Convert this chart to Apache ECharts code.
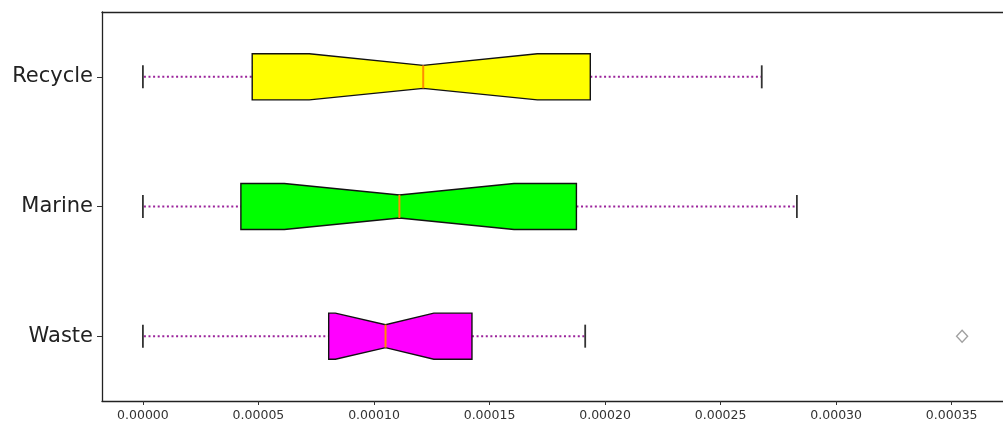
<!DOCTYPE html>
<html>
<head>
<meta charset="utf-8">
<script src="https://cdn.jsdelivr.net/npm/echarts@6/dist/echarts.min.js"></script>
<style>
html,body{margin:0;padding:0;background:#fff;}
#chart{width:1003px;height:430px;}
</style>
</head>
<body>
<div id="chart"></div>
<script>
const categories = ['Recycle', 'Marine', 'Waste'];
const whiskerLow = [0, 0, 0];
const q1 = [0.0000473, 0.0000424, 0.0000804];
const notchLow = [0.0000720, 0.0000612, 0.0000833];
const median = [0.0001213, 0.0001110, 0.0001050];
const notchHigh = [0.0001707, 0.0001606, 0.0001259];
const q3 = [0.0001936, 0.0001876, 0.0001424];
const whiskerHigh = [0.0002678, 0.0002830, 0.0001914];
const boxColors = ['#ffff00', '#00ff00', '#ff00ff'];
const outlierValues = [0.0003545];
const outlierCategories = ['Waste'];
const xTicks = [0, 0.00005, 0.0001, 0.00015, 0.0002, 0.00025, 0.0003, 0.00035];

const boxData = categories.map((c, i) => [i, whiskerLow[i], q1[i], notchLow[i], median[i], notchHigh[i], q3[i], whiskerHigh[i]]);
const outlierData = outlierValues.map((v, i) => [v, outlierCategories[i]]);

const chart = echarts.init(document.getElementById('chart'));

function renderBox(params, api) {
  const idx = api.value(0);
  const X = v => api.coord([v, idx])[0];
  const y = api.coord([0, idx])[1];
  const band = api.size([0, 1])[1];
  const h = band * 0.355 / 2;
  const hn = h / 2;
  const wl = api.value(1), a = api.value(2), nl = api.value(3), m = api.value(4), nh = api.value(5), b = api.value(6), wh = api.value(7);
  const whiskerStyle = { stroke: '#9b239b', lineWidth: 2, lineDash: [2, 2.6], lineCap: 'butt' };
  const capStyle = { stroke: '#333', lineWidth: 1.8 };
  return {
    type: 'group',
    children: [
      { type: 'line', shape: { x1: X(wl) + 1, y1: y, x2: X(a), y2: y }, style: whiskerStyle },
      { type: 'line', shape: { x1: X(b), y1: y, x2: X(wh), y2: y }, style: whiskerStyle },
      { type: 'line', shape: { x1: X(wl), y1: y - hn, x2: X(wl), y2: y + hn }, style: capStyle },
      { type: 'line', shape: { x1: X(wh), y1: y - hn, x2: X(wh), y2: y + hn }, style: capStyle },
      {
        type: 'polygon',
        shape: {
          points: [
            [X(a), y - h], [X(nl), y - h], [X(m), y - hn], [X(nh), y - h], [X(b), y - h],
            [X(b), y + h], [X(nh), y + h], [X(m), y + hn], [X(nl), y + h], [X(a), y + h]
          ]
        },
        style: { fill: boxColors[idx], stroke: '#111', lineWidth: 1.4, lineJoin: 'miter' }
      },
      { type: 'line', shape: { x1: X(m), y1: y - hn, x2: X(m), y2: y + hn }, style: { stroke: '#ff8c00', lineWidth: 2 } }
    ]
  };
}

const axisLineStyle = { color: '#222', width: 1.3 };

chart.setOption({
  animation: false,
  backgroundColor: '#fff',
  grid: { left: 102, top: 12, right: -8, bottom: 29, show: false, containLabel: false },
  xAxis: [
    {
      type: 'value',
      position: 'bottom',
      min: -0.0000177,
      max: 0.0003722,
      splitLine: { show: false },
      axisLine: { show: true, onZero: false, lineStyle: axisLineStyle },
      axisTick: { show: true, length: 4, lineStyle: { color: '#333' }, customValues: xTicks },
      axisLabel: {
        customValues: xTicks,
        formatter: v => Number(v).toFixed(5),
        fontFamily: 'DejaVu Sans', fontSize: 12.5, color: '#333', margin: 8
      }
    },
    {
      type: 'value',
      position: 'top',
      min: -0.0000177,
      max: 0.0003722,
      splitLine: { show: false },
      axisLine: { show: true, onZero: false, lineStyle: axisLineStyle },
      axisTick: { show: false },
      axisLabel: { show: false }
    }
  ],
  yAxis: {
    type: 'category',
    data: categories,
    inverse: true,
    axisLine: { show: true, onZero: false, lineStyle: axisLineStyle },
    axisTick: { show: true, length: 5, alignWithLabel: true, lineStyle: { color: '#333' } },
    axisLabel: { fontFamily: 'DejaVu Sans', fontSize: 21, color: '#222', margin: 9 },
    splitLine: { show: false }
  },
  series: [
    {
      type: 'custom',
      renderItem: renderBox,
      data: boxData,
      xAxisIndex: 0,
      encode: { x: [1, 2, 3, 4, 5, 6, 7], y: 0 },
      z: 2
    },
    {
      type: 'scatter',
      xAxisIndex: 0,
      data: outlierData,
      symbol: 'diamond',
      symbolSize: [11, 12],
      itemStyle: { color: 'rgba(0,0,0,0)', borderColor: '#888', borderWidth: 1.4 },
      z: 3
    }
  ]
});
</script>
</body>
</html>
